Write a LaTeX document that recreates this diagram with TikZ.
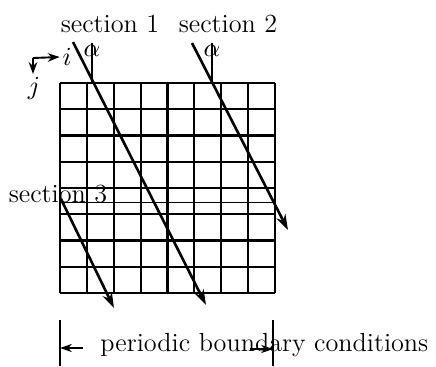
\documentclass[tikz,border=0pt]{standalone}
\usetikzlibrary{arrows.meta,positioning}

\begin{document}
\begin{tikzpicture}[
  x=0.42pt, y=-0.42pt,
  every node/.style={font=\fontsize{11}{13}\selectfont},
  gridline/.style={line width=0.9pt},
  sect/.style={line width=1.1pt, -{Stealth[length=6.5pt,width=4.2pt]}},
  axis/.style={line width=0.8pt, -{Stealth[length=5pt,width=3.6pt]}},
  anglebar/.style={line width=0.45pt},
  bc/.style={line width=0.9pt, -{Stealth[length=5pt,width=3.4pt]}},
  tickmark/.style={line width=0.9pt},
  lbl/.style={inner sep=1pt}
]
  \useasboundingbox (0,0) rectangle (436,366);

  %% 8 x 8 mesh
  \foreach \k in {0,...,8} {
    \draw[gridline] (60+\k*26.875,83) -- (60+\k*26.875,293);
    \draw[gridline] (60,83+\k*26.25) -- (275,83+\k*26.25);
  }
  \coordinate (wl) at (60,202);
  \coordinate (wr) at (275,202);
  \draw[line width=0.4pt] (wl) -- (wr);

  %% index directions
  \coordinate (o) at (33,58);
  \node[lbl] (i) at (67,57) {$i$};
  \node[lbl] (j) at (34,88) {$j$};
  \draw[axis] (o) -- (i.west);
  \draw[axis] (o) -- (o |- j.north);

  %% section labels
  \node[anchor=base] (l1) at (110,32) {section 1};
  \node[anchor=base] (l2) at (228,32) {section 2};
  \node[anchor=base] (l3) at (58,202) {section 3};

  %% angle marks
  \node[lbl] (a1) at (92,51) {$\alpha$};
  \node[lbl] (a2) at (212,51) {$\alpha$};
  \coordinate (f1) at (92,83);
  \coordinate (f2) at (212,83);
  \draw[anglebar] (a1.north) -- (f1);
  \draw[anglebar] (a2.north) -- (f2);

  %% section lines
  \coordinate (s1a) at (73,42);
  \coordinate (s1b) at (206,305);
  \coordinate (s2a) at (192,43);
  \coordinate (s2b) at (288,230);
  \coordinate (s3a) at (61,199);
  \coordinate (s3b) at (114,308);
  \draw[sect] (s1a) -- (s1b);
  \draw[sect] (s2a) -- (s2b);
  \draw[sect] (s3a) -- (s3b);

  %% periodic boundary
  \coordinate (bl) at (60,320);
  \coordinate (br) at (273,320);
  \draw[tickmark] (bl) -- (60,366);
  \draw[tickmark] (br) -- (273,366);
  \coordinate (bla) at (83,348);
  \coordinate (brb) at (250,349);
  \draw[bc] (bla) -- (bla -| bl);
  \draw[bc] (brb) -- (brb -| br);
  \node[anchor=base west, inner sep=0pt] (pbc) at (100,351) {periodic boundary conditions};
\end{tikzpicture}
\end{document}
